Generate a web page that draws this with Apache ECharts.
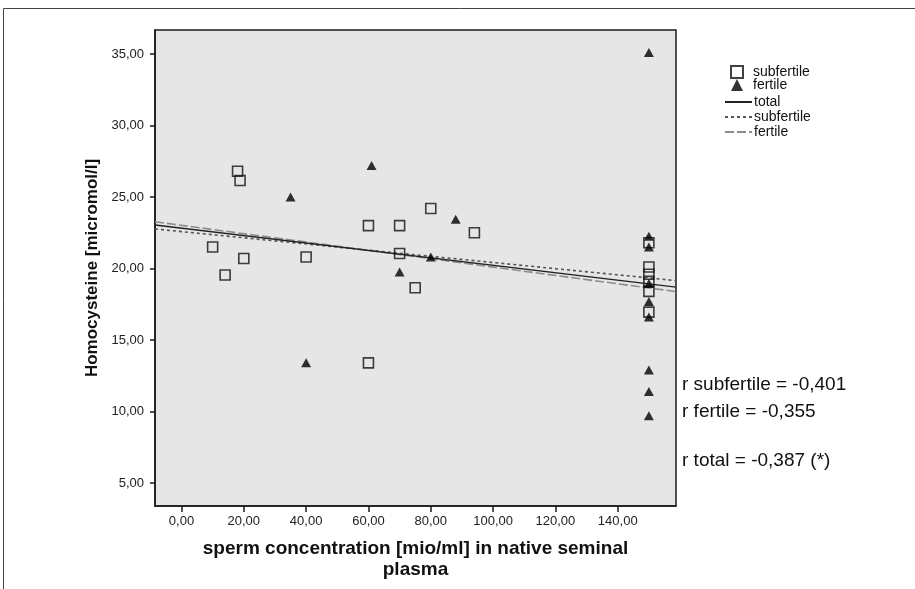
<!DOCTYPE html>
<html>
<head>
<meta charset="utf-8">
<script src="https://cdn.jsdelivr.net/npm/echarts@6/dist/echarts.min.js"></script>
<style>
  html, body { margin: 0; padding: 0; background: #ffffff; }
  #chart { width: 915px; height: 589px; }
</style>
</head>
<body>
<div id="chart"></div>
<script>
// Sperm concentration (mio/ml) vs. homocysteine (micromol/l)
const subfertileX = [10, 14, 18, 18.8, 20, 40, 60, 60, 70, 70, 75, 80, 94,
                     150, 150, 150, 150, 150, 150];
const subfertileY = [21.5, 19.55, 26.8, 26.15, 20.7, 20.8, 23.0, 13.4, 23.0, 21.05, 18.65, 24.2, 22.5,
                     21.8, 20.1, 19.6, 19.1, 18.4, 16.95];

const fertileX = [35, 40, 61, 70, 80, 88,
                  150, 150, 150, 150, 150, 150, 150, 150, 150];
const fertileY = [25.0, 13.4, 27.2, 19.75, 20.8, 23.45,
                  35.1, 22.25, 21.5, 18.95, 17.7, 16.6, 12.9, 11.4, 9.7];

// Linear fit lines: y = intercept + slope * x
const fitNames     = ['total', 'subfertile fit', 'fertile fit'];
const fitIntercept = [22.82, 22.58, 23.02];
const fitSlope     = [-0.0260, -0.0216, -0.0292];

const xTicks = [0, 20, 40, 60, 80, 100, 120, 140];
const yTicks = [5, 10, 15, 20, 25, 30, 35];
const xRange = [-8.5, 158.7];
const yRange = [3.39, 36.68];

const correlationNotes = ['r subfertile = -0,401', 'r fertile = -0,355', 'r total = -0,387 (*)'];

const FONT = '"Liberation Sans", Arial, sans-serif';
const fmt = v => v.toFixed(2).replace('.', ',');

function pairs(xs, ys) { return xs.map((x, i) => [x, ys[i]]); }
function fitLine(k) {
  return xRange.map(x => [x, fitIntercept[k] + fitSlope[k] * x]);
}

const legendLabel = { 'subfertile': 'subfertile', 'fertile': 'fertile',
  'total': 'total', 'subfertile fit': 'subfertile', 'fertile fit': 'fertile' };

const chart = echarts.init(document.getElementById('chart'), null, { renderer: 'canvas' });

chart.setOption({
  animation: false,
  backgroundColor: '#ffffff',
  textStyle: { fontFamily: FONT },
  grid: {
    left: 155, top: 30, right: 239, bottom: 83,
    show: true, backgroundColor: '#e6e6e6',
    borderColor: '#1a1a1a', borderWidth: 1.5
  },
  xAxis: {
    type: 'value', min: xRange[0], max: xRange[1],
    splitLine: { show: false },
    axisLine: { show: true, onZero: false, lineStyle: { color: '#1a1a1a', width: 1.5 } },
    axisTick: { show: true, length: 6, customValues: xTicks, lineStyle: { color: '#1a1a1a', width: 1.5 } },
    axisLabel: { customValues: xTicks, formatter: fmt, color: '#222', fontSize: 13, margin: 9, fontFamily: FONT },
    name: 'sperm concentration [mio/ml] in native seminal\nplasma',
    nameLocation: 'middle', nameGap: 32,
    nameTextStyle: { fontSize: 19, fontWeight: 'bold', color: '#111', lineHeight: 21, fontFamily: FONT }
  },
  yAxis: {
    type: 'value', min: yRange[0], max: yRange[1],
    splitLine: { show: false },
    axisLine: { show: true, onZero: false, lineStyle: { color: '#1a1a1a', width: 1.5 } },
    axisTick: { show: true, length: 5, customValues: yTicks, lineStyle: { color: '#1a1a1a', width: 1.5 } },
    axisLabel: { customValues: yTicks, formatter: fmt, color: '#222', fontSize: 13, margin: 11, fontFamily: FONT },
    name: 'Homocysteine [micromol/l]',
    nameLocation: 'middle', nameGap: 52, nameRotate: 90,
    nameTextStyle: { fontSize: 17, fontWeight: 'bold', color: '#111', fontFamily: FONT }
  },
  legend: [
    {
      orient: 'vertical', left: 725, top: 60, itemWidth: 12, itemHeight: 12, itemGap: -1,
      data: ['subfertile', 'fertile'],
      formatter: n => legendLabel[n],
      textStyle: { fontSize: 14, lineHeight: 13, color: '#111', fontFamily: FONT, padding: [0, 0, 0, 5] }
    },
    {
      orient: 'vertical', left: 719, top: 90, itemWidth: 27, itemHeight: 10, itemGap: 1,
      data: ['total', 'subfertile fit', 'fertile fit'],
      formatter: n => legendLabel[n],
      itemStyle: { color: 'rgba(0,0,0,0)', borderWidth: 0, opacity: 0 },
      textStyle: { fontSize: 14, lineHeight: 13, color: '#111', fontFamily: FONT, padding: [0, 0, 0, -3] }
    }
  ],
  series: [
    {
      name: fitNames[1], type: 'line', data: fitLine(1), symbol: 'none', silent: true,
      itemStyle: { color: '#555' },
      lineStyle: { color: '#555', width: 1.6, type: [3, 3] }, z: 2
    },
    {
      name: fitNames[2], type: 'line', data: fitLine(2), symbol: 'none', silent: true,
      itemStyle: { color: '#8c8c8c' },
      lineStyle: { color: '#8c8c8c', width: 1.6, type: [9, 3] }, z: 2
    },
    {
      name: fitNames[0], type: 'line', data: fitLine(0), symbol: 'none', silent: true,
      itemStyle: { color: '#222' },
      lineStyle: { color: '#222', width: 1.4 }, z: 3
    },
    {
      name: 'subfertile', type: 'scatter', data: pairs(subfertileX, subfertileY),
      symbol: 'rect', symbolSize: 10, symbolKeepAspect: true,
      itemStyle: { color: 'rgba(0,0,0,0)', borderColor: '#111', borderWidth: 1.6 }, z: 4
    },
    {
      name: 'fertile', type: 'scatter', data: pairs(fertileX, fertileY),
      symbol: 'triangle', symbolSize: [10, 9], symbolKeepAspect: true,
      itemStyle: { color: '#000' }, z: 5
    }
  ],
  graphic: [
    {
      type: 'rect', silent: true, z: -1,
      shape: { x: 3.5, y: 8.5, width: 1000, height: 1000 },
      style: { fill: 'none', stroke: '#444', lineWidth: 1 }
    },
    { type: 'text', left: 682, top: 375, style: { text: correlationNotes[0], font: '19px ' + FONT, fill: '#111' } },
    { type: 'text', left: 682, top: 402, style: { text: correlationNotes[1], font: '19px ' + FONT, fill: '#111' } },
    { type: 'text', left: 682, top: 451, style: { text: correlationNotes[2], font: '19px ' + FONT, fill: '#111' } }
  ]
});
</script>
</body>
</html>
